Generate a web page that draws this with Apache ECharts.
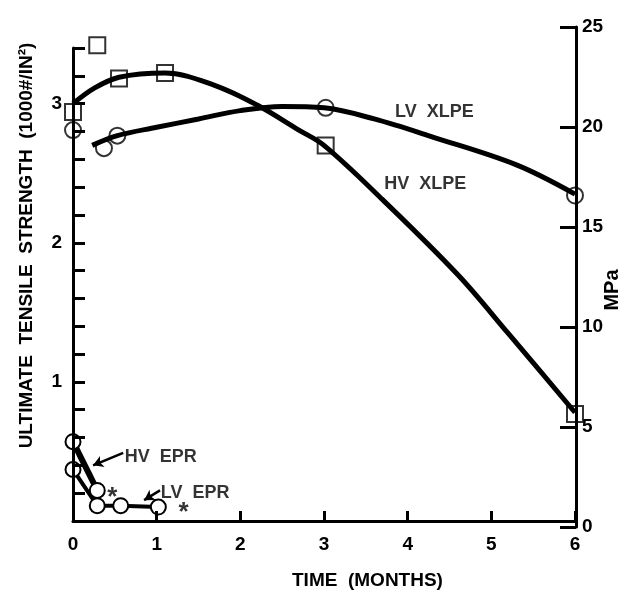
<!DOCTYPE html>
<html><head><meta charset="utf-8">
<script src="https://cdn.jsdelivr.net/npm/echarts@6/dist/echarts.min.js"></script>
<style>html,body{margin:0;padding:0;background:#fff}#c{width:632px;height:592px}</style>
</head><body><div id="c"></div>
<script>
// ---- data (time in months, strength in 1000 psi) ----
const monthTicks = [0, 1, 2, 3, 4, 5, 6];
const mpaTicks = [0, 5, 10, 15, 20, 25];

// fitted curves
const hvXlpeCurve = [[0,3.0],[0.25,3.11],[0.55,3.19],[1.1,3.22],[1.7,3.13],[2.2,2.99],[2.7,2.81],[3.0,2.70],[3.7,2.31],[4.6,1.77],[5.2,1.35],[6.0,0.78]];
const lvXlpeCurve = [[0.23,2.70],[0.53,2.77],[1.0,2.83],[1.5,2.89],[2.0,2.95],[2.5,2.98],[3.0,2.97],[3.6,2.89],[4.3,2.76],[5.3,2.56],[6.0,2.35]];
// measured points
const hvXlpePoints = [[0,2.94],[0.29,3.42],[0.55,3.18],[1.1,3.22],[3.02,2.70],[6.0,0.77]];
const lvXlpePoints = [[0,2.81],[0.37,2.68],[0.53,2.77],[3.02,2.97],[6.0,2.34]];
const hvEprPoints = [[0,0.57],[0.29,0.22]];
const lvEprPoints = [[0,0.37],[0.29,0.11],[0.57,0.11],[1.02,0.10]];

// annotations
const curveLabels = [
  {name:'LV  XLPE', value:[4.32,2.94]},
  {name:'HV  XLPE', value:[4.21,2.42]},
  {name:'HV  EPR', value:[1.05,0.46]},
  {name:'LV  EPR', value:[1.46,0.20]}
];
const starLabels = [
  {name:'*', value:[0.47,0.17]},
  {name:'*', value:[1.32,0.06]}
];
const arrows = [
  [[0.60,0.49],[0.24,0.40]],
  [[1.04,0.22],[0.85,0.15]]
];

const FONT = '"Liberation Sans", Arial, sans-serif';
const chart = echarts.init(document.getElementById('c'), null, {renderer:'canvas'});
const hollowCircle = {color:'#fff', borderColor:'#000', borderWidth:2};

chart.setOption({
  animation:false,
  backgroundColor:'#fff',
  title:{text:'TIME  (MONTHS)', left:287, top:566, textStyle:{fontFamily:FONT, fontWeight:'bold', fontSize:19, color:'#000'}},
  grid:[
    {left:73, right:57, top:48, bottom:71, containLabel:false, outerBoundsMode:'none'},
    {left:73, right:56, top:27, bottom:65, containLabel:false, outerBoundsMode:'none'}
  ],
  xAxis:[
    {gridIndex:0, type:'value', min:monthTicks[0], max:monthTicks[monthTicks.length-1], interval:1, z:10,
     axisLine:{onZero:false, lineStyle:{color:'#000', width:3}},
     axisTick:{inside:true, length:10, lineStyle:{color:'#000', width:3}},
     axisLabel:{margin:14, fontFamily:FONT, fontWeight:'bold', fontSize:19, color:'#000'},
     splitLine:{show:false}},
    {gridIndex:1, type:'value', min:0, max:1, show:false}
  ],
  yAxis:[
    {gridIndex:0, type:'value', min:0, max:3.4, interval:0.2, z:10,
     name:'ULTIMATE  TENSILE  STRENGTH  (1000#/IN²)', nameLocation:'middle', nameGap:37, nameRotate:90,
     nameMoveOverlap:false,
     nameTextStyle:{fontFamily:FONT, fontWeight:'bold', fontSize:19, color:'#000', padding:[0,0,0,78]},
     axisLine:{onZero:false, lineStyle:{color:'#000', width:3}},
     axisTick:{inside:true, length:12, lineStyle:{color:'#000', width:3}},
     axisLabel:{margin:11, fontFamily:FONT, fontWeight:'bold', fontSize:19, color:'#000',
       formatter:v => (Math.abs(v-Math.round(v))<1e-6 && Math.round(v)>0) ? String(Math.round(v)) : ''},
     splitLine:{show:false}},
    {gridIndex:1, type:'value', position:'right', min:mpaTicks[0], max:mpaTicks[mpaTicks.length-1], interval:5, z:10,
     name:'MPa', nameLocation:'middle', nameGap:26, nameRotate:90, nameMoveOverlap:false,
     nameTextStyle:{fontFamily:FONT, fontWeight:'bold', fontSize:20, color:'#000', padding:[0,26,0,0]},
     axisLine:{onZero:false, lineStyle:{color:'#000', width:3}},
     axisTick:{inside:true, length:16, lineStyle:{color:'#000', width:3}},
     axisLabel:{margin:6, fontFamily:FONT, fontWeight:'bold', fontSize:19, color:'#000'},
     splitLine:{show:false}}
  ],
  series:[
    {name:'HV XLPE curve', type:'line', data:hvXlpeCurve, smooth:0.35, showSymbol:false, clip:false,
     lineStyle:{color:'#000', width:5}},
    {name:'LV XLPE curve', type:'line', data:lvXlpeCurve, smooth:0.35, showSymbol:false, clip:false,
     lineStyle:{color:'#000', width:5}},
    {name:'HV EPR', type:'line', data:hvEprPoints, symbol:'circle', symbolSize:15, showAllSymbol:true, clip:false,
     lineStyle:{color:'#000', width:6}, itemStyle:hollowCircle,
     markLine:{silent:true, symbol:['none','arrow'], symbolSize:[9,10], label:{show:false},
       lineStyle:{color:'#000', width:2.5, type:'solid'},
       data:[[{coord:arrows[0][0]},{coord:arrows[0][1]}]]}},
    {name:'LV EPR', type:'line', data:lvEprPoints, symbol:'circle', symbolSize:15, showAllSymbol:true, clip:false,
     lineStyle:{color:'#000', width:4}, itemStyle:hollowCircle,
     markLine:{silent:true, symbol:['none','arrow'], symbolSize:[9,10], label:{show:false},
       lineStyle:{color:'#000', width:2.5, type:'solid', curveness:0.3},
       data:[[{coord:arrows[1][0]},{coord:arrows[1][1]}]]}},
    {name:'HV XLPE', type:'scatter', data:hvXlpePoints, symbol:'rect', symbolSize:16, clip:false,
     itemStyle:{color:'#fff', borderColor:'#000', borderWidth:2}},
    {name:'LV XLPE', type:'scatter', data:lvXlpePoints, symbol:'circle', symbolSize:16, clip:false,
     itemStyle:hollowCircle},
    {name:'labels', type:'scatter', data:curveLabels, symbolSize:1, clip:false,
     itemStyle:{color:'rgba(0,0,0,0)'},
     label:{show:true, position:'inside', formatter:'{b}', fontFamily:FONT, fontWeight:'bold', fontSize:18, color:'#000'}},
    {name:'stars', type:'scatter', data:starLabels, symbolSize:1, clip:false,
     itemStyle:{color:'rgba(0,0,0,0)'},
     label:{show:true, position:'inside', formatter:'{b}', fontFamily:FONT, fontWeight:'bold', fontSize:26, color:'#000'}}
  ]
});
</script></body></html>
